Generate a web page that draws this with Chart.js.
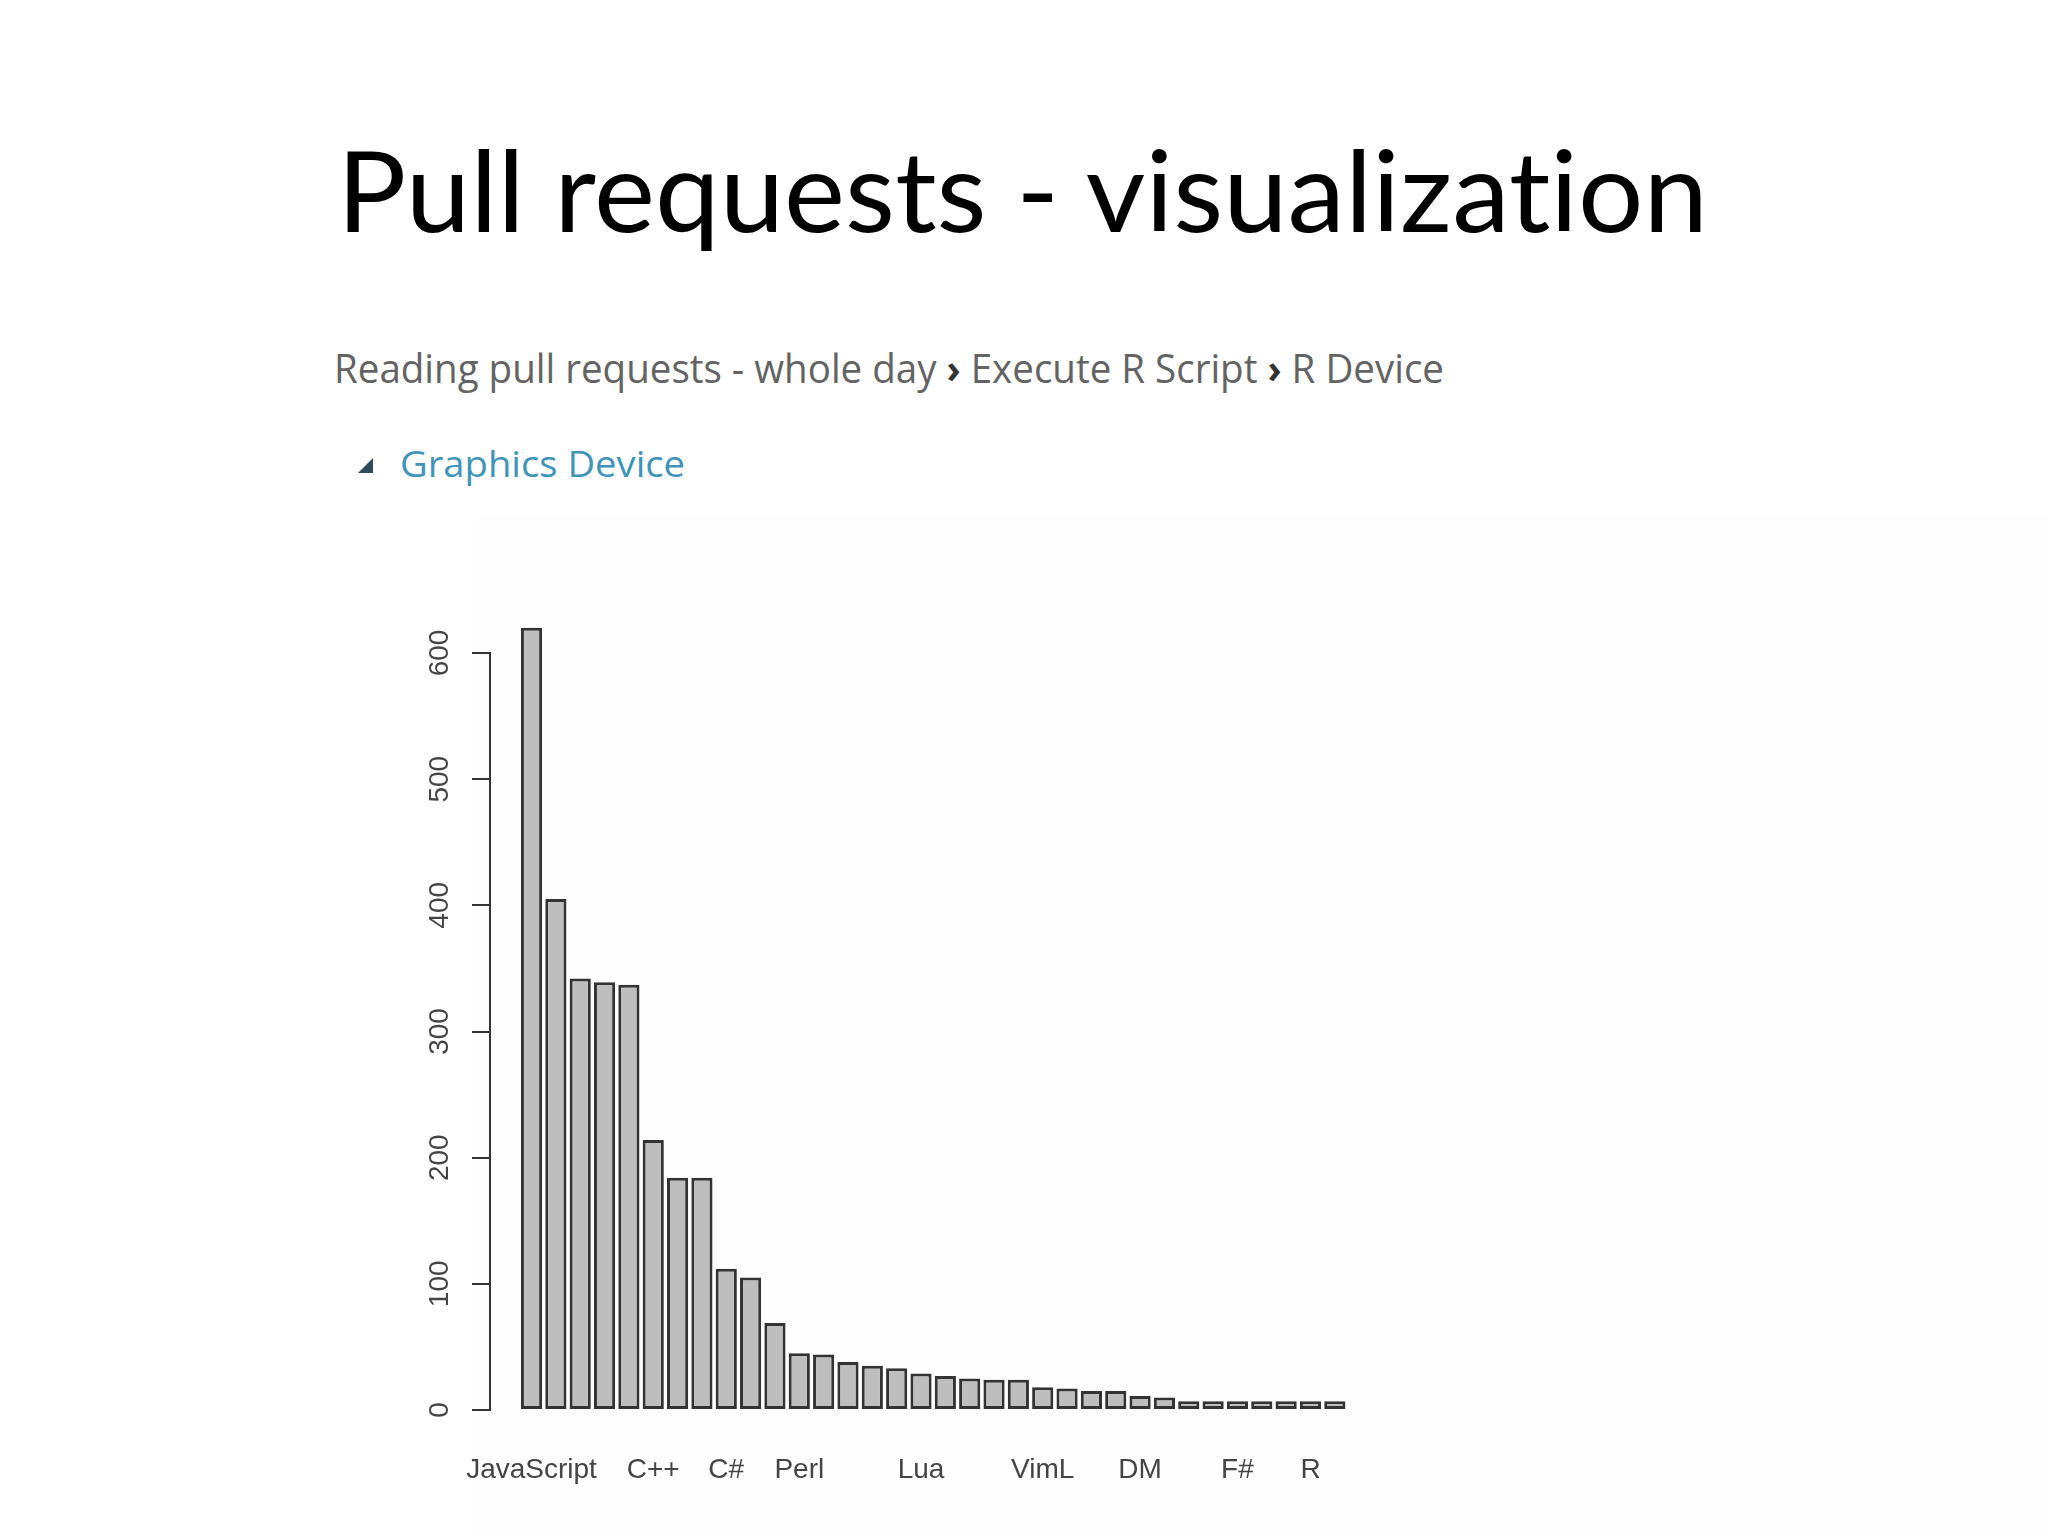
<!DOCTYPE html>
<html>
<head>
<meta charset="utf-8">
<title>Pull requests - visualization</title>
<script src="https://cdn.jsdelivr.net/npm/chart.js@4.4.1/dist/chart.umd.min.js"></script>
<style>
  html, body { margin: 0; padding: 0; background: #fff; }
  body { width: 2048px; height: 1536px; position: relative; overflow: hidden; }
  .panel { position: absolute; left: 478px; top: 515px; width: 1570px; height: 1021px; background: #fdfdfd; }
  #chart { position: absolute; left: 0; top: 0; }
  .txt { position: absolute; white-space: nowrap; line-height: 1; transform-origin: 0 0; font-variant-ligatures: none; }
  #title { font-family: Lato, sans-serif; font-size: 112px; color: #000; left: 337px; top: 133px; }
  #crumbs { font-family: "Open Sans", sans-serif; font-size: 40px; color: #636363; left: 334px; top: 348px; }
  #crumbs b { color: #333; }
  #section { font-family: "Open Sans", sans-serif; font-size: 36px; color: #3f94ba; left: 400px; top: 446px; }
  .tri { position: absolute; left: 358px; top: 458px; width: 0; height: 0;
         border-left: 15px solid transparent; border-bottom: 15px solid #2d4a5e; }
</style>
</head>
<body>
<div class="panel"></div>
<div id="title" class="txt" data-w="1371">Pull requests - visualization</div>
<div id="crumbs" class="txt" data-w="1110">Reading pull requests - whole day <b>›</b> Execute R Script <b>›</b> R Device</div>
<div class="tri"></div>
<div id="section" class="txt" data-w="285">Graphics Device</div>
<canvas id="chart" width="2048" height="1536"></canvas>
<script>
// languages by number of pull requests; R only printed the labels that fit
const categories = ['JavaScript', '', '', '', '', 'C++', '', '', 'C#', '', '', 'Perl', '', '', '', '',
  'Lua', '', '', '', '', 'VimL', '', '', '', 'DM', '', '', '', 'F#', '', '', 'R', ''];
const pullRequests = [620, 405, 342, 339, 337, 214, 184, 184, 112, 105, 69, 45, 44, 38, 35, 33, 29,
  27, 25, 24, 24, 18, 17, 15, 15, 11, 10, 7, 7, 7, 7, 7, 7, 7];
const yTicks = [0, 100, 200, 300, 400, 500, 600];

// squeeze the html labels to the width they have in the slide
document.querySelectorAll('.txt').forEach(el => {
  const w = el.getBoundingClientRect().width;
  el.style.transform = 'scaleX(' + (+el.dataset.w / w) + ')';
});

const axisFont = { family: 'Liberation Sans, Arial, sans-serif', size: 28 };

new Chart(document.getElementById('chart'), {
  type: 'bar',
  data: {
    datasets: [{
      data: pullRequests.map((v, i) => ({ x: i, y: v })),
      backgroundColor: '#bebebe',
      borderColor: '#333',
      borderWidth: 3,
      borderSkipped: false,
      barPercentage: 0.87,
      categoryPercentage: 1,
      clip: false
    }]
  },
  options: {
    responsive: false,
    animation: false,
    events: [],
    layout: { padding: { top: 653, left: 420, right: 701, bottom: 12 } },
    plugins: { legend: { display: false }, tooltip: { enabled: false } },
    scales: {
      x: {
        type: 'linear',
        offset: false,
        min: -1.706,
        max: 33.5,
        grid: { display: false, offset: false },
        border: { display: false },
        afterBuildTicks: s => { s.ticks = categories.map((c, i) => ({ value: i })); },
        afterFit: s => { s.height = 114; },
        ticks: {
          autoSkip: false, maxRotation: 0, minRotation: 0, padding: 35,
          color: '#444', font: axisFont,
          callback: v => categories[v]
        }
      },
      y: {
        min: 0,
        max: 600,
        afterBuildTicks: s => { s.ticks = yTicks.map(v => ({ value: v })); },
        afterFit: s => { s.width = 70; },
        grid: { drawOnChartArea: false, drawTicks: true, tickLength: 18, color: '#333', lineWidth: 2 },
        border: { display: true, color: '#333', width: 2 },
        ticks: {
          minRotation: 90, maxRotation: 90, crossAlign: 'center', padding: 8,
          color: '#444', font: axisFont
        }
      }
    }
  }
});
</script>
</body>
</html>
